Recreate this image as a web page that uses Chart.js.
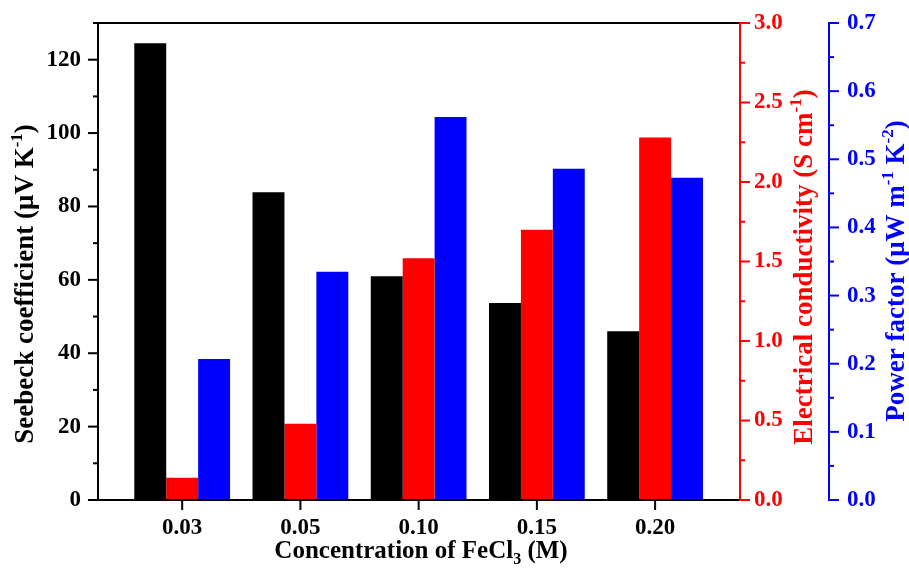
<!DOCTYPE html>
<html>
<head>
<meta charset="utf-8">
<script src="https://cdn.jsdelivr.net/npm/chart.js@4.4.1/dist/chart.umd.min.js"></script>
<style>
  html, body { margin: 0; padding: 0; background: #fff; }
</style>
</head>
<body>
<canvas id="teChart" width="909" height="576"></canvas>
<script>
// FeCl3 doping series: Seebeck, conductivity and power factor per concentration
const concentrations = ['0.03', '0.05', '0.10', '0.15', '0.20']
const seebeck = [124.5, 83.9, 61.0, 53.7, 46.0]
const conductivity = [0.14, 0.48, 1.52, 1.70, 2.28]
const powerFactor = [0.207, 0.335, 0.562, 0.486, 0.473]

const FONT = "'Liberation Serif', 'Times New Roman', serif"
const RED = '#ff0000'
const BLUE = '#0000ff'

const toPoints = values => values.map((y, i) => ({ x: i, y }))

// draws a string made of parts, some raised (sup) or lowered (sub)
const richText = (ctx, parts, cx, cy, size, color, rotate) => {
    ctx.save()
    ctx.translate(cx, cy)
    if (rotate) ctx.rotate(-Math.PI / 2)
    ctx.fillStyle = color
    ctx.textBaseline = 'middle'
    ctx.textAlign = 'left'
    const big = `bold ${size}px ${FONT}`
    const small = `bold ${Math.round(size * 0.62)}px ${FONT}`
    let total = 0
    parts.forEach(p => {
        ctx.font = p.sup || p.sub ? small : big
        total += ctx.measureText(p.t).width
    })
    let x = -total / 2
    parts.forEach(p => {
        ctx.font = p.sup || p.sub ? small : big
        const dy = p.sup ? -size * 0.32 : p.sub ? size * 0.3 : 0
        ctx.fillText(p.t, x, dy)
        x += ctx.measureText(p.t).width
    })
    ctx.restore()
}

const axisDecor = {
    id: 'axisDecor',
    afterDatasetsDraw(chart) {
        const { ctx, chartArea: a, scales } = chart
        ctx.save()
        ctx.lineWidth = 2

        const line = (x1, y1, x2, y2, color) => {
            ctx.strokeStyle = color
            ctx.beginPath()
            ctx.moveTo(x1, y1)
            ctx.lineTo(x2, y2)
            ctx.stroke()
        }

        // frame
        line(a.left, a.top, a.right, a.top, '#000')
        line(a.left, a.bottom, a.right, a.bottom, '#000')
        line(a.left, a.top - 1, a.left, a.bottom + 1, '#000')
        line(a.right, a.top - 1, a.right, a.bottom + 1, RED)
        const bx = scales.y2.left
        line(bx, a.top - 1, bx, a.bottom + 1, BLUE)

        // tick marks, long for labelled ticks and short for the others
        const marks = (scale, x0, dir, color) => {
            scale.ticks.forEach(t => {
                const y = scale.getPixelForValue(t.value)
                const len = t.label !== '' ? 10 : 5
                line(x0, y, x0 + dir * len, y, color)
            })
        }
        marks(scales.y, a.left, -1, '#000')
        marks(scales.y1, a.right, 1, RED)
        marks(scales.y2, bx, 1, BLUE)
        scales.x.ticks.forEach(t => {
            const x = scales.x.getPixelForValue(t.value)
            line(x, a.bottom, x, a.bottom + 10, '#000')
        })
        ctx.restore()
    },
    afterDraw(chart) {
        const { ctx } = chart
        richText(ctx, [
            { t: 'Seebeck coefficient (μV K' }, { t: '-1', sup: true }, { t: ')' }
        ], 26, 284, 27, '#000', true)
        richText(ctx, [
            { t: 'Electrical conductivity (S cm' }, { t: '-1', sup: true }, { t: ')' }
        ], 805, 267, 27, RED, true)
        richText(ctx, [
            { t: 'Power factor (μW m' }, { t: '-1', sup: true }, { t: ' K' }, { t: '-2', sup: true }, { t: ')' }
        ], 897, 271, 27, BLUE, true)
        richText(ctx, [
            { t: 'Concentration of FeCl' }, { t: '3', sub: true }, { t: ' (M)' }
        ], 421, 552, 25, '#000', false)
    }
}

const tickFont = { family: FONT, size: 23, weight: 'bold' }
const hiddenGrid = { drawOnChartArea: false, tickColor: 'transparent', tickLength: 10 }

const data = {
    datasets: [
        { label: 'Seebeck coefficient', data: toPoints(seebeck), backgroundColor: '#000', yAxisID: 'y' },
        { label: 'Electrical conductivity', data: toPoints(conductivity), backgroundColor: RED, yAxisID: 'y1' },
        { label: 'Power factor', data: toPoints(powerFactor), backgroundColor: BLUE, yAxisID: 'y2' }
    ]
}

const options = {
    responsive: false,
    animation: false,
    layout: { padding: { top: 23, left: 0, right: 0, bottom: 0 } },
    categoryPercentage: 0.81,
    barPercentage: 1,
    plugins: {
        legend: { display: false },
        tooltip: { enabled: false }
    },
    scales: {
        x: {
            type: 'linear',
            offset: false,
            min: -0.712,
            max: 4.718,
            afterBuildTicks: scale => { scale.ticks = concentrations.map((c, i) => ({ value: i })) },
            afterFit: scale => { scale.height = 76 },
            ticks: {
                autoSkip: false,
                maxRotation: 0,
                padding: 4,
                color: '#000',
                font: tickFont,
                callback: (value, index) => concentrations[index]
            },
            grid: hiddenGrid,
            border: { display: false }
        },
        y: {
            position: 'left',
            min: 0,
            max: 130,
            afterFit: scale => { scale.width = 98 },
            ticks: {
                stepSize: 10,
                autoSkip: false,
                padding: 7,
                color: '#000',
                font: tickFont,
                callback: v => (v % 20 === 0 ? String(v) : '')
            },
            grid: hiddenGrid,
            border: { display: false }
        },
        y1: {
            position: 'right',
            min: 0,
            max: 3,
            afterFit: scale => { scale.width = 89 },
            ticks: {
                stepSize: 0.25,
                autoSkip: false,
                padding: 4,
                color: RED,
                font: tickFont,
                callback: v => (Math.round(v * 100) % 50 === 0 ? v.toFixed(1) : '')
            },
            grid: hiddenGrid,
            border: { display: false }
        },
        y2: {
            position: 'right',
            min: 0,
            max: 0.7,
            afterFit: scale => { scale.width = 80 },
            ticks: {
                stepSize: 0.05,
                autoSkip: false,
                padding: 8,
                color: BLUE,
                font: tickFont,
                callback: v => (Math.round(v * 100) % 10 === 0 ? v.toFixed(1) : '')
            },
            grid: hiddenGrid,
            border: { display: false }
        }
    }
}

new Chart('teChart', { type: 'bar', data, options, plugins: [axisDecor] })
</script>
</body>
</html>
